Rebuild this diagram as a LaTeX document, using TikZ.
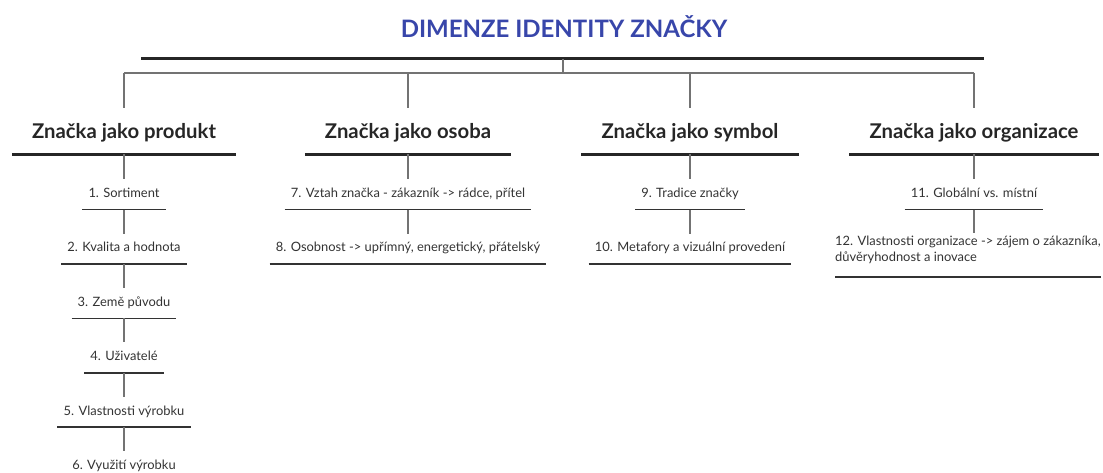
\documentclass[tikz,border=0pt]{standalone}
\usepackage{fontspec}
\setmainfont{Lato}
\usetikzlibrary{positioning}
\definecolor{titleblue}{RGB}{56,70,170}
\begin{document}
\begin{tikzpicture}[
  x=1pt, y=-1pt,
  font=\fontsize{12.9}{16}\selectfont,
  node distance=24pt,
  title/.style={font=\fontsize{24}{30}\selectfont\bfseries, text=titleblue, inner sep=0pt},
  head/.style={font=\fontsize{20.3}{24}\selectfont\bfseries, text=black!85, text height=14pt, text depth=5pt, inner xsep=20pt, inner ysep=10pt},
  item/.style={text=black!80, text height=9pt, text depth=3pt, inner xsep=6pt, inner ysep=9pt},
  bar/.style={line width=3pt, draw=black!85},
  link/.style={line width=1.2pt, draw=black!55},
  uline/.style={line width=1.5pt, draw=black!80}
]
\useasboundingbox (0,0) rectangle (1103,473);
\node[title, anchor=base] (title) at (564,38) {DIMENZE IDENTITY ZNAČKY};
\coordinate (barL) at (141,59);
\coordinate (barR) at (984,59);
\coordinate (fork) at (563,73);
% headings
\node[head] (prod) at (124,134.5) {Značka jako produkt};
\node[head] (pers) at (408,134.5) {Značka jako osoba};
\node[head] (symb) at (690,134.5) {Značka jako symbol};
\node[head] (org) at (974,134.5) {Značka jako organizace};
% items
\node[item, below=25pt of prod] (p1) {1. Sortiment};
\node[item, below=of p1] (p2) {2. Kvalita a hodnota};
\node[item, below=of p2] (p3) {3. Země původu};
\node[item, below=of p3] (p4) {4. Uživatelé};
\node[item, below=of p4] (p5) {5. Vlastnosti výrobku};
\node[item, below=of p5] (p6) {6. Využití výrobku};
\node[item, below=25pt of pers] (s1) {7. Vztah značka - zákazník -> rádce, přítel};
\node[item, below=of s1] (s2) {8. Osobnost -> upřímný, energetický, přátelský};
\node[item, below=25pt of symb] (y1) {9. Tradice značky};
\node[item, below=of y1] (y2) {10. Metafory a vizuální provedení};
\node[item, below=25pt of org] (o1) {11. Globální vs. místní};
\node[text=black!80, align=left, inner sep=0pt, anchor=north west] (o2) at (835,236)
  {12. Vlastnosti organizace -> zájem o zákazníka,\\důvěryhodnost a inovace};
% tree
\draw[bar] (barL) -- (barR);
\draw[link] (fork |- barL) -- (fork);
\draw[link] (prod.north |- fork) -- (org.north |- fork);
\foreach \n in {prod,pers,symb,org}
  \draw[link] (\n.north |- fork) -- ([yshift=7pt]\n.north);
\foreach \n in {prod,pers,symb,org}
  \draw[bar] (\n.south west) -- (\n.south east);
\foreach \n in {p1,p2,p3,p4,p5,s1,s2,y1,y2,o1}
  \draw[uline] (\n.south west) -- (\n.south east);
\draw[uline] ([yshift=-13pt]o2.south west) -- ([yshift=-13pt]o2.south east);
% links
\draw[link] (prod.south) -- (p1.north);
\draw[link] (p1.south) -- (p2.north);
\draw[link] (p2.south) -- (p3.north);
\draw[link] (p3.south) -- (p4.north);
\draw[link] (p4.south) -- (p5.north);
\draw[link] (p5.south) -- (p6.north);
\draw[link] (pers.south) -- (s1.north);
\draw[link] (s1.south) -- (s2.north);
\draw[link] (symb.south) -- (y1.north);
\draw[link] (y1.south) -- (y2.north);
\draw[link] (org.south) -- (o1.north);
\draw[link] (o1.south) -- ([yshift=3pt]o1.south |- o2.north);
\end{tikzpicture}
\end{document}
